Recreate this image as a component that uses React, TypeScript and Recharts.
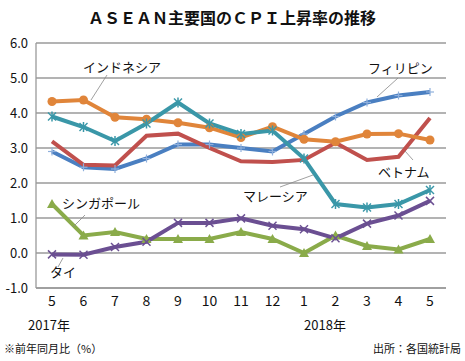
import React from 'react';
import { LineChart, Line, XAxis, YAxis, CartesianGrid } from 'recharts';

const months = ['5', '6', '7', '8', '9', '10', '11', '12', '1', '2', '3', '4', '5'];
const indonesia = [4.33, 4.37, 3.88, 3.82, 3.72, 3.58, 3.3, 3.61, 3.25, 3.18, 3.4, 3.41, 3.23];
const malaysia = [3.9, 3.6, 3.2, 3.7, 4.3, 3.7, 3.4, 3.5, 2.7, 1.4, 1.3, 1.4, 1.8];
const vietnam = [3.19, 2.52, 2.5, 3.35, 3.41, 3.0, 2.62, 2.6, 2.66, 3.15, 2.66, 2.75, 3.86];
const philippines = [2.9, 2.45, 2.4, 2.7, 3.1, 3.1, 3.0, 2.9, 3.4, 3.9, 4.3, 4.5, 4.6];
const singapore = [1.4, 0.5, 0.6, 0.4, 0.4, 0.4, 0.6, 0.4, 0.0, 0.5, 0.2, 0.1, 0.4];
const thailand = [-0.04, -0.05, 0.17, 0.32, 0.86, 0.86, 0.99, 0.78, 0.68, 0.42, 0.84, 1.07, 1.49];
const yTicks = [-1, 0, 1, 2, 3, 4, 5, 6];

const data = months.map((m, i) => ({
  month: m,
  idn: indonesia[i],
  mys: malaysia[i],
  vnm: vietnam[i],
  phl: philippines[i],
  sgp: singapore[i],
  tha: thailand[i],
}));

const FONT = '"Noto Sans CJK JP", "Noto Sans", sans-serif';

const circleDot = (color: string) => (p: any) => (
  <circle key={p.index} cx={p.cx} cy={p.cy} r={4.5} fill={color} />
);
const crossDot = (color: string, star = false) => (p: any) => (
  <g key={p.index} stroke={color} strokeWidth={1.5}>
    <line x1={p.cx - 4} y1={p.cy - 4} x2={p.cx + 4} y2={p.cy + 4} />
    <line x1={p.cx - 4} y1={p.cy + 4} x2={p.cx + 4} y2={p.cy - 4} />
    {star && <line x1={p.cx} y1={p.cy - 5} x2={p.cx} y2={p.cy + 5} />}
  </g>
);
const plusDot = (color: string) => (p: any) => (
  <g key={p.index} stroke={color} strokeWidth={1.2}>
    <line x1={p.cx - 4} y1={p.cy} x2={p.cx + 4} y2={p.cy} />
    <line x1={p.cx} y1={p.cy - 4} x2={p.cx} y2={p.cy + 4} />
  </g>
);
const triDot = (color: string) => (p: any) => (
  <polygon
    key={p.index}
    points={`${p.cx},${p.cy - 5} ${p.cx - 5},${p.cy + 4} ${p.cx + 5},${p.cy + 4}`}
    fill={color}
  />
);

export default function App() {
  const lbl = { fontFamily: FONT, fontSize: 13, fill: '#111' };
  return (
    <div style={{ position: 'absolute', left: 0, top: 0, width: 465, height: 361, background: '#fff' }}>
      <LineChart width={465} height={361} data={data} margin={{ top: 43, right: 19, bottom: 43, left: 0 }}>
        <CartesianGrid vertical={false} stroke="#9a9a9a" strokeWidth={1.3} />
        <XAxis
          dataKey="month"
          height={30}
          padding={{ left: 16, right: 16 }}
          axisLine={{ stroke: '#9a9a9a', strokeWidth: 1.3 }}
          tickLine={false}
          tick={{ fontFamily: FONT, fontSize: 14, fill: '#111' }}
          interval={0}
        />
        <YAxis
          width={36}
          domain={[-1, 6]}
          ticks={yTicks}
          tickFormatter={(v: number) => v.toFixed(1)}
          axisLine={{ stroke: '#9a9a9a', strokeWidth: 1.3 }}
          tickLine={false}
          tick={{ fontFamily: FONT, fontSize: 13, fill: '#111' }}
        />
        <Line dataKey="phl" stroke="#4a7fc1" strokeWidth={4} dot={plusDot('#8fb0dc')} isAnimationActive={false} />
        <Line dataKey="vnm" stroke="#c0504d" strokeWidth={4} dot={false} isAnimationActive={false} />
        <Line dataKey="idn" stroke="#e0853a" strokeWidth={4} dot={circleDot('#e0853a')} isAnimationActive={false} />
        <Line dataKey="mys" stroke="#3a97a8" strokeWidth={4} dot={crossDot('#3a97a8', true)} isAnimationActive={false} />
        <Line dataKey="sgp" stroke="#8aab4a" strokeWidth={4} dot={triDot('#8aab4a')} isAnimationActive={false} />
        <Line dataKey="tha" stroke="#6b4f92" strokeWidth={4} dot={crossDot('#6b4f92')} isAnimationActive={false} />
      </LineChart>
      <svg width={465} height={361} style={{ position: 'absolute', left: 0, top: 0, pointerEvents: 'none' }}>
        <text x={232} y={24} textAnchor="middle" fontFamily={FONT} fontSize={16} fontWeight="bold" fill="#111">
          ＡＳＥＡＮ主要国のＣＰＩ上昇率の推移
        </text>
        <g stroke="#888" strokeWidth={0.8}>
          <line x1={107} y1={75} x2={91} y2={100} />
          <line x1={398} y1={78} x2={377} y2={97} />
          <line x1={405} y1={151} x2={413} y2={160} />
          <line x1={280} y1={187} x2={313} y2={175} />
          <line x1={73} y1={227} x2={85} y2={215} />
          <line x1={63} y1={258} x2={58} y2={267} />
        </g>
        <text x={83} y={72} {...lbl}>インドネシア</text>
        <text x={368} y={73} {...lbl}>フィリピン</text>
        <text x={378} y={177} {...lbl}>ベトナム</text>
        <text x={243} y={201} {...lbl}>マレーシア</text>
        <text x={62} y={208} {...lbl}>シンガポール</text>
        <text x={50} y={277} {...lbl}>タイ</text>
        <text x={49} y={330} textAnchor="middle" fontFamily={FONT} fontSize={13} fill="#111">2017年</text>
        <text x={325} y={330} textAnchor="middle" fontFamily={FONT} fontSize={13} fill="#111">2018年</text>
        <text x={4} y={353} fontFamily={FONT} fontSize={11} fill="#111">※前年同月比（%）</text>
        <text x={461} y={353} textAnchor="end" fontFamily={FONT} fontSize={11} fill="#111">出所：各国統計局</text>
      </svg>
    </div>
  );
}
